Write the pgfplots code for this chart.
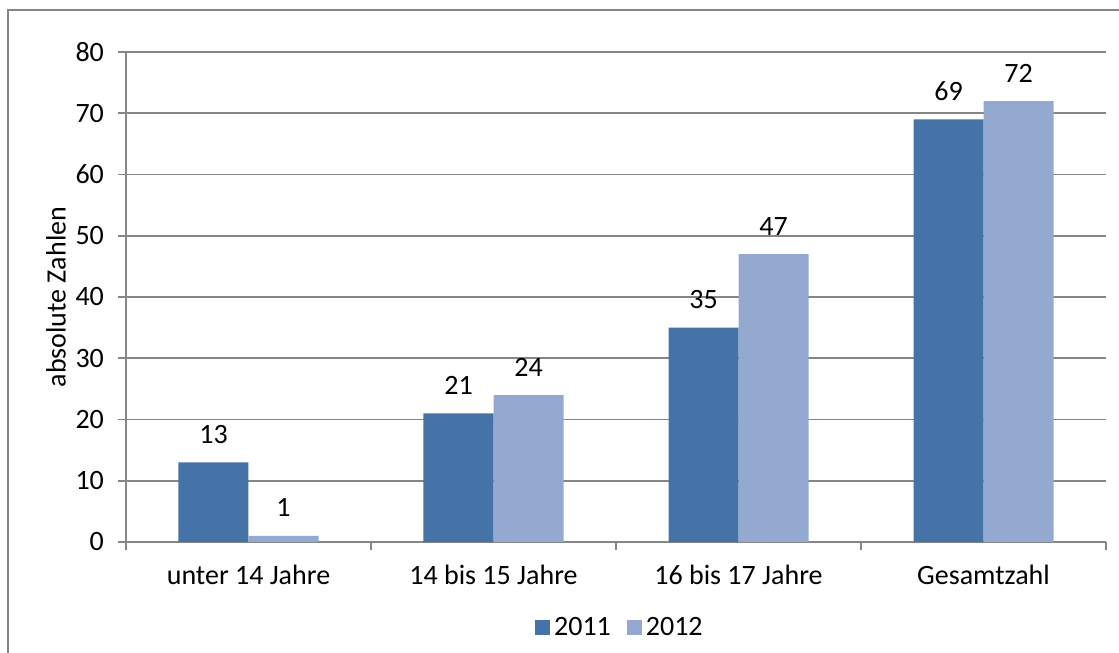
\documentclass[border=0pt]{standalone}
\usepackage{fontspec}
\setmainfont{Carlito}
\usepackage{pgfplots}
\pgfplotsset{compat=1.18}
\definecolor{bluedark}{HTML}{4572A7}
\definecolor{bluelight}{HTML}{93A9CF}
\definecolor{gridgray}{HTML}{868686}

\begin{document}
\begin{tikzpicture}[font=\fontsize{14}{16.8}\selectfont]
\useasboundingbox (-63pt,-55.5pt) rectangle (496.5pt,271pt);
\begin{axis}[
  scale only axis,
  width=490pt, height=245pt,
  at={(0,0)}, anchor=south west,
  ybar, bar width=35pt,
  ymin=0, ymax=80, ytick={0,10,...,80},
  xmin=-0.5, xmax=3.5,
  xtick={-0.5,0.5,1.5,2.5,3.5},
  x tick label as interval,
  xticklabels={unter 14 Jahre,14 bis 15 Jahre,16 bis 17 Jahre,Gesamtzahl},
  axis x line*=bottom, axis y line*=left,
  axis line style={gridgray, line width=0.9pt, -},
  tick style={gridgray, line width=0.9pt},
  tick align=outside, major tick length=4pt,
  ymajorgrids, grid style={gridgray, line width=0.9pt},
  /pgf/number format/assume math mode=true,
  yticklabel style={xshift=-3.5pt},
  xticklabel style={yshift=-4pt},
  ylabel={absolute Zahlen},
  ylabel style={at={(axis description cs:-0.0714,0.5)}, anchor=center},
  nodes near coords,
  every node near coord/.append style={anchor=center, yshift=14pt, text=black},
  legend style={at={(axis description cs:0.505,-0.1755)}, anchor=center,
    draw=none, legend columns=2, /tikz/every even column/.append style={column sep=6pt}},
  legend image code/.code={\fill[#1] (0pt,-3.75pt) rectangle (7.5pt,3.75pt);},
]
\addplot[fill=bluedark, draw=none, bar shift=-17.5pt] coordinates {(0,13) (1,21) (2,35) (3,69)};
\addplot[fill=bluelight, draw=none, bar shift=17.5pt] coordinates {(0,1) (1,24) (2,47) (3,72)};
\legend{2011,2012}
\end{axis}
\draw[gridgray, line width=1pt] (-59pt,-56pt) -- (-59pt,266pt) -- (497pt,266pt);
\end{tikzpicture}
\end{document}
